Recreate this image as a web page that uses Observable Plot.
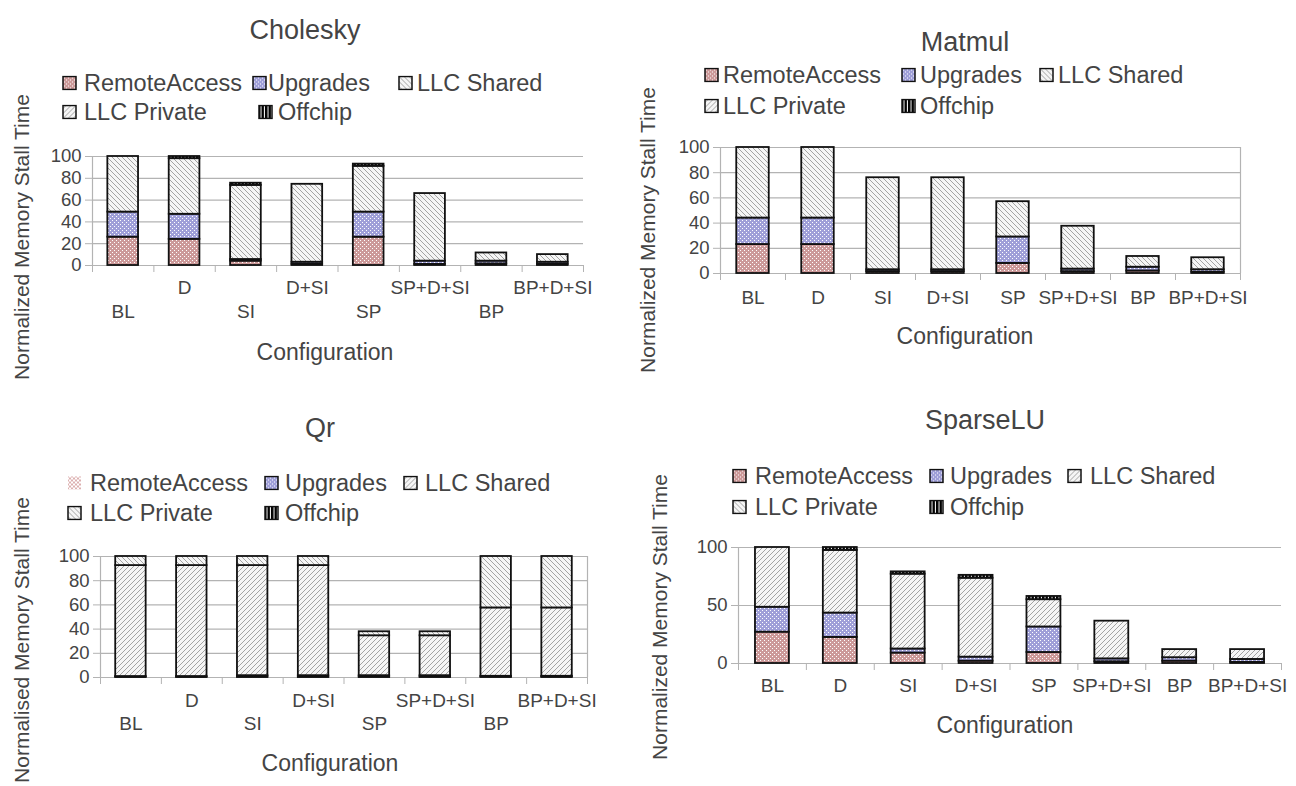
<!DOCTYPE html>
<html><head><meta charset="utf-8">
<script src="https://cdn.jsdelivr.net/npm/d3@7"></script>
<script src="https://cdn.jsdelivr.net/npm/@observablehq/plot@0.6"></script>
<style>
html,body{margin:0;padding:0;background:#fff;}
#root{position:relative;width:1296px;height:786px;overflow:hidden;font-family:"Liberation Sans",Arial,sans-serif;color:#444;}
.abs{position:absolute;white-space:nowrap;}
.ctr{transform:translate(-50%,-50%);}
.title{font-size:27px;}
.axl{font-size:23px;}
.ylab{font-size:21px;transform:translate(-50%,-50%) rotate(-90deg);}
.leg{font-size:23.5px;line-height:24px;transform:translateY(-50%);}
.sw{position:absolute;transform:translateY(-50%);}
</style>
</head><body>
<svg width="0" height="0" style="position:absolute">
<defs>
<pattern id="pRA" width="4" height="4" patternUnits="userSpaceOnUse">
<rect width="4" height="4" fill="#cc9999"/><rect x="0" y="0" width="1" height="1" fill="#fff"/><rect x="2" y="2" width="1" height="1" fill="#fff"/>
</pattern>
<pattern id="pRAq" width="4" height="4" patternUnits="userSpaceOnUse">
<rect width="4" height="4" fill="#fff"/><rect x="0" y="0" width="2" height="2" fill="#dcb0b0"/><rect x="2" y="2" width="2" height="2" fill="#dcb0b0"/>
</pattern>
<pattern id="pUP" width="4" height="4" patternUnits="userSpaceOnUse">
<rect width="4" height="4" fill="#9f9fd8"/><rect x="0" y="0" width="1" height="1" fill="#fff"/><rect x="2" y="2" width="1" height="1" fill="#fff"/>
</pattern>
<pattern id="pBS" width="5" height="5" patternUnits="userSpaceOnUse">
<rect width="5" height="5" fill="#f5f5f5"/><path d="M0,0L5,5M-2.5,2.5L2.5,7.5M2.5,-2.5L7.5,2.5" stroke="#a3a3a3" stroke-width="1"/>
</pattern>
<pattern id="pFS" width="5" height="5" patternUnits="userSpaceOnUse">
<rect width="5" height="5" fill="#f5f5f5"/><path d="M0,5L5,0M-2.5,2.5L2.5,-2.5M2.5,7.5L7.5,2.5" stroke="#a3a3a3" stroke-width="1"/>
</pattern>
<pattern id="pOFF" width="3.5" height="4" patternUnits="userSpaceOnUse">
<rect width="3.5" height="4" fill="#fff"/><rect x="0" width="2.5" height="4" fill="#000"/>
</pattern>
</defs>
</svg>
<div id="root"></div>
<script>
// ---- data ----
const configs = ["BL","D","SI","D+SI","SP","SP+D+SI","BP","BP+D+SI"];
const seriesNames = ["RemoteAccess","Upgrades","LLC Shared","LLC Private","Offchip"];
const yTicksDefault = [0,20,40,60,80,100];
const yTicksSparse = [0,50,100];

const choleskyRemote   = [26, 24, 4, 1, 26, 1, 1.5, 1];
const choleskyUpgrades = [23, 23, 1.5, 2, 23, 3, 2.5, 2];
const choleskyShared   = [51, 51, 68, 71.5, 42, 62, 7.5, 7];
const choleskyPrivate  = [0, 0, 0, 0, 0, 0, 0, 0];
const choleskyOffchip  = [0, 2, 2, 0, 2, 0, 0, 0];

const matmulRemote   = [23, 23, 1.5, 1.5, 8, 1.5, 2, 1];
const matmulUpgrades = [21, 21, 1.5, 1.5, 21, 2, 3, 2];
const matmulShared   = [56, 56, 73, 73, 28, 34, 8.5, 9.5];
const matmulPrivate  = [0, 0, 0, 0, 0, 0, 0, 0];
const matmulOffchip  = [0, 0, 0, 0, 0, 0, 0, 0];

const qrRemote   = [0.3, 0.3, 0.5, 0.5, 0.5, 0.5, 0.5, 0.5];
const qrUpgrades = [0.5, 0.5, 1, 1, 1, 1, 0.5, 0.5];
const qrShared   = [91.7, 91.7, 91, 91, 33, 33, 56.5, 56.5];
const qrPrivate  = [7.5, 7.5, 7.5, 7.5, 3.3, 3.3, 42.5, 42.5];
const qrOffchip  = [0, 0, 0, 0, 0, 0, 0, 0];

const sparseRemote   = [27, 22.5, 9, 2, 9.5, 1.5, 2, 1];
const sparseUpgrades = [21.5, 21, 3.5, 3.5, 22, 2.5, 3, 2.5];
const sparseShared   = [51.5, 54, 64.5, 68, 23.5, 32.5, 7, 8.5];
const sparsePrivate  = [0, 0, 0, 0, 0, 0, 0, 0];
const sparseOffchip  = [0, 2.5, 2, 2.5, 2.8, 0, 0, 0];

// ---- helpers ----
const root = document.getElementById("root");
function addDiv(cls, text, x, y, extra) {
  const d = document.createElement("div");
  d.className = "abs " + cls;
  d.textContent = text;
  d.style.left = x + "px"; d.style.top = y + "px";
  if (extra) Object.assign(d.style, extra);
  root.appendChild(d);
  return d;
}
function swatch(pat, x, y, border) {
  const ns = "http://www.w3.org/2000/svg";
  const s = document.createElementNS(ns, "svg");
  s.setAttribute("width", 15); s.setAttribute("height", 15);
  s.setAttribute("class", "sw");
  s.style.left = x + "px"; s.style.top = y + "px";
  const r = document.createElementNS(ns, "rect");
  r.setAttribute("x", 1); r.setAttribute("y", 1); r.setAttribute("width", 13); r.setAttribute("height", 13);
  r.setAttribute("fill", `url(#${pat})`);
  if (border) { r.setAttribute("stroke", "#111"); r.setAttribute("stroke-width", 1.5); }
  s.appendChild(r);
  root.appendChild(s);
}
function legend(items) {
  for (const it of items) {
    swatch(it.pat, it.sx, it.y, it.border !== false);
    addDiv("leg", it.name, it.tx, it.y);
  }
}
function stackRows(values) {
  const rows = [];
  configs.forEach((c, i) => {
    let acc = 0;
    seriesNames.forEach((s, k) => {
      const v = values[k][i];
      rows.push({config: c, i, series: s, y1: acc, y2: acc + v, v});
      acc += v;
    });
  });
  return rows.filter(r => r.v > 0);
}
function panel(o) {
  const rows = stackRows(o.values);
  const pats = {"RemoteAccess": "pRA", "Upgrades": "pUP", "LLC Shared": o.sharedPat, "LLC Private": o.privatePat, "Offchip": "pOFF"};
  const barMarks = seriesNames.map(s => Plot.rect(rows.filter(r => r.series === s), {
    x1: r => r.i + 0.25, x2: r => r.i + 0.75, y1: "y1", y2: "y2",
    fill: `url(#${pats[s]})`, stroke: "#111", strokeWidth: 1.8
  }));
  const idx = configs.map((c, i) => ({c, i}));
  const fs = 19;
  const textMarks = o.stagger
    ? [Plot.text(idx.filter(d => d.i % 2 === 1), {x: d => d.i + 0.5, y: 0, text: "c", dy: o.dy1, fontSize: fs, fill: "#444"}),
       Plot.text(idx.filter(d => d.i % 2 === 0), {x: d => d.i + 0.5, y: 0, text: "c", dy: o.dy2, fontSize: fs, fill: "#444"})]
    : [Plot.text(idx, {x: d => d.i + 0.5, y: 0, text: "c", dy: o.dy1, fontSize: fs, fill: "#444"})];
  const chart = Plot.plot({
    width: o.width, height: o.height,
    marginLeft: o.ml, marginRight: o.mr, marginTop: o.mt, marginBottom: o.mb,
    x: {domain: [0, configs.length], axis: null},
    y: {domain: [0, 100], axis: null},
    style: {fontFamily: "'Liberation Sans', Arial, sans-serif", background: "transparent", overflow: "visible"},
    marks: [
      Plot.ruleY(o.yTicks, {stroke: "#b3b3b3", strokeWidth: 1.2}),
      Plot.ruleX([0], {stroke: "#b3b3b3", strokeWidth: 1.2}),
      ...(o.rightFrame ? [Plot.ruleX([configs.length], {stroke: "#b3b3b3", strokeWidth: 1.2})] : []),
      Plot.axisY({ticks: o.yTicks, tickSize: 7, tickPadding: 4, fontSize: 18.5, stroke: "#b3b3b3", fill: "#444", label: null}),
      Plot.axisX({ticks: d3.range(configs.length + 1), tickFormat: () => "", tickSize: 7, stroke: "#b3b3b3", label: null}),
      ...barMarks,
      ...textMarks
    ]
  });
  chart.style.position = "absolute";
  chart.style.left = o.left + "px";
  chart.style.top = o.top + "px";
  root.appendChild(chart);
}

// ---- Cholesky ----
addDiv("title ctr", "Cholesky", 305, 30);
legend([
  {name: "RemoteAccess", pat: "pRA", sx: 62, tx: 84, y: 83},
  {name: "Upgrades", pat: "pUP", sx: 252, tx: 268, y: 83},
  {name: "LLC Shared", pat: "pBS", sx: 398, tx: 417, y: 83},
  {name: "LLC Private", pat: "pFS", sx: 62, tx: 84, y: 112},
  {name: "Offchip", pat: "pOFF", sx: 258, tx: 278, y: 112}
]);
panel({values: [choleskyRemote, choleskyUpgrades, choleskyShared, choleskyPrivate, choleskyOffchip],
  sharedPat: "pBS", privatePat: "pFS", yTicks: yTicksDefault,
  left: 0, top: 140, width: 600, height: 190, ml: 92, mr: 17, mt: 16, mb: 65,
  stagger: true, dy1: 22, dy2: 46, rightFrame: false});
addDiv("ylab", "Normalized Memory Stall Time", 22, 237);
addDiv("axl ctr", "Configuration", 325, 352);

// ---- Matmul ----
addDiv("title ctr", "Matmul", 965, 42);
legend([
  {name: "RemoteAccess", pat: "pRA", sx: 704, tx: 723, y: 75},
  {name: "Upgrades", pat: "pUP", sx: 901, tx: 920, y: 75},
  {name: "LLC Shared", pat: "pBS", sx: 1039, tx: 1058, y: 75},
  {name: "LLC Private", pat: "pFS", sx: 704, tx: 723, y: 106},
  {name: "Offchip", pat: "pOFF", sx: 901, tx: 920, y: 106}
]);
panel({values: [matmulRemote, matmulUpgrades, matmulShared, matmulPrivate, matmulOffchip],
  sharedPat: "pBS", privatePat: "pFS", yTicks: yTicksDefault,
  left: 640, top: 130, width: 620, height: 180, ml: 80, mr: 20, mt: 17, mb: 37,
  stagger: false, dy1: 24, rightFrame: true});
addDiv("ylab", "Normalized Memory Stall Time", 648, 230);
addDiv("axl ctr", "Configuration", 965, 336);

// ---- Qr ----
addDiv("title ctr", "Qr", 320, 428);
legend([
  {name: "RemoteAccess", pat: "pRAq", sx: 67, tx: 90, y: 483, border: false},
  {name: "Upgrades", pat: "pUP", sx: 264, tx: 285, y: 483},
  {name: "LLC Shared", pat: "pFS", sx: 403, tx: 425, y: 483},
  {name: "LLC Private", pat: "pBS", sx: 67, tx: 90, y: 513},
  {name: "Offchip", pat: "pOFF", sx: 264, tx: 285, y: 513}
]);
panel({values: [qrRemote, qrUpgrades, qrShared, qrPrivate, qrOffchip],
  sharedPat: "pFS", privatePat: "pBS", yTicks: yTicksDefault,
  left: 0, top: 540, width: 610, height: 200, ml: 100, mr: 23, mt: 16, mb: 63,
  stagger: true, dy1: 23, dy2: 46, rightFrame: true});
addDiv("ylab", "Normalised Memory Stall Time", 22, 640);
addDiv("axl ctr", "Configuration", 330, 763);

// ---- SparseLU ----
addDiv("title ctr", "SparseLU", 985, 420);
legend([
  {name: "RemoteAccess", pat: "pRA", sx: 732, tx: 755, y: 476},
  {name: "Upgrades", pat: "pUP", sx: 929, tx: 950, y: 476},
  {name: "LLC Shared", pat: "pFS", sx: 1067, tx: 1090, y: 476},
  {name: "LLC Private", pat: "pBS", sx: 732, tx: 755, y: 507},
  {name: "Offchip", pat: "pOFF", sx: 929, tx: 950, y: 507}
]);
panel({values: [sparseRemote, sparseUpgrades, sparseShared, sparsePrivate, sparseOffchip],
  sharedPat: "pFS", privatePat: "pBS", yTicks: yTicksSparse,
  left: 650, top: 530, width: 640, height: 170, ml: 88, mr: 9, mt: 17, mb: 37,
  stagger: false, dy1: 22, rightFrame: false});
addDiv("ylab", "Normalized Memory Stall Time", 660, 617);
addDiv("axl ctr", "Configuration", 1005, 725);
</script>
</body></html>
